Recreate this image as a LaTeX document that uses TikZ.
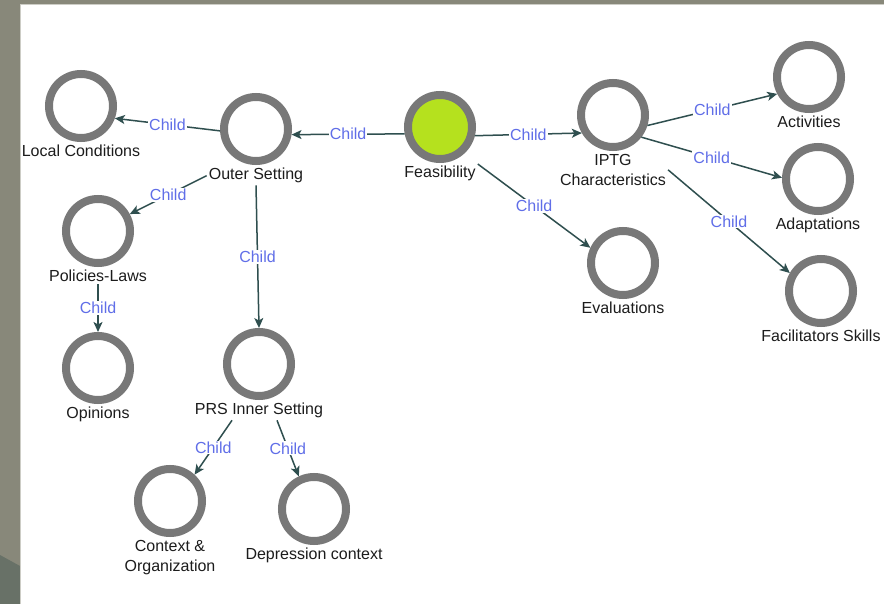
\documentclass[tikz,border=0pt]{standalone}
\usepackage{fontspec}
\setmainfont{Liberation Sans}
\usetikzlibrary{arrows.meta,positioning,calc}

\definecolor{framegray}{RGB}{136,136,122}
\definecolor{framedark}{RGB}{104,113,103}
\definecolor{framelight}{RGB}{205,205,198}
\definecolor{ringgray}{RGB}{120,120,120}
\definecolor{feasgreen}{RGB}{181,225,30}
\definecolor{edgegray}{RGB}{47,79,79}
\definecolor{childblue}{RGB}{96,110,232}
\definecolor{captiontext}{RGB}{28,28,28}

\begin{document}
\begin{tikzpicture}[x=1pt,y=-1pt,font=\fontsize{16}{20}\selectfont,
                    >={Stealth[length=10pt,width=9pt,inset=2.5pt]}]
    \tikzstyle{concept}=[circle,draw=ringgray,line width=8pt,fill=white,
                         minimum size=64pt,inner sep=0pt]
    \tikzstyle{caption}=[text=captiontext,inner sep=2pt,align=center]
    \tikzstyle{child}=[->,draw=edgegray,line width=1.5pt]
    \tikzstyle{childlabel}=[fill=white,text=childblue,inner sep=1pt]

    % frame
    \useasboundingbox (0,0) rectangle (884,604);
    \fill[framegray] (0,0) rectangle (884,604);
    \fill[framedark] (0,555) -- (20,566) -- (20,604) -- (0,604) -- cycle;
    \fill[white] (20,4) rectangle (884,604);
    \draw[framelight] (20.5,604) -- (20.5,4.5) -- (884,4.5);

    \node[concept,fill=feasgreen] (fe)  at (440,127) {};
    \node[caption] (fel) [below=1pt of fe]  {Feasibility};
    \node[concept] (os)  at (256,129) {};
    \node[caption] (osl) [below=1pt of os]  {Outer Setting};
    \node[concept] (lc)  at (81,106)  {};
    \node[caption] (lcl) [below=1pt of lc]  {Local Conditions};
    \node[concept] (pl)  at (98,231)  {};
    \node[caption] (pll) [below=1pt of pl]  {Policies-Laws};
    \node[concept] (op)  at (98,368)  {};
    \node[caption] (opl) [below=1pt of op]  {Opinions};
    \node[concept] (prs) at (259,364) {};
    \node[caption] (prsl) [below=1pt of prs] {PRS Inner Setting};
    \node[concept] (co)  at (170,501) {};
    \node[caption] (col) [below=1pt of co]  {Context \&\\Organization};
    \node[concept] (dc)  at (314,509) {};
    \node[caption] (dcl) [below=1pt of dc]  {Depression context};
    \node[concept] (ev)  at (623,263) {};
    \node[caption] (evl) [below=1pt of ev]  {Evaluations};
    \node[concept] (ip)  at (613,115) {};
    \node[caption] (ipl) [below=1pt of ip]  {IPTG\\Characteristics};
    \node[concept] (ac)  at (809,77)  {};
    \node[caption] (acl) [below=1pt of ac]  {Activities};
    \node[concept] (ad)  at (818,179) {};
    \node[caption] (adl) [below=1pt of ad]  {Adaptations};
    \node[concept] (fs)  at (821,291) {};
    \node[caption] (fsl) [below=1pt of fs]  {Facilitators Skills};

    \draw[child] (fe.191) -- node[childlabel] {Child} (os.351);
    \draw[child] (os.183) -- node[childlabel] {Child} (lc.340);
    \draw[child] (osl.west) -- node[childlabel] {Child} (pl.28);
    \draw[child] (osl.south) -- node[childlabel] {Child} (prs.north);
    \draw[child] (pll.south) -- node[childlabel] {Child} (op.north);
    \draw[child] ($(prsl.south)+(-27,0)$) -- node[childlabel] {Child} (co.47);
    \draw[child] ($(prsl.south)+(18,0)$) -- node[childlabel] {Child} (dc.115);
    \draw[child] (fel.north east) -- node[childlabel] {Child} (ev.155);
    \draw[child] (fe.346) -- node[childlabel] {Child} (ip.210);
    \draw[child] (ip.343) -- node[childlabel] {Child} (ac.208);
    \draw[child] (ip.322) -- node[childlabel] {Child} (ad.178);
    \draw[child] (ipl.east) -- node[childlabel] {Child} (fs.150);
\end{tikzpicture}
\end{document}
